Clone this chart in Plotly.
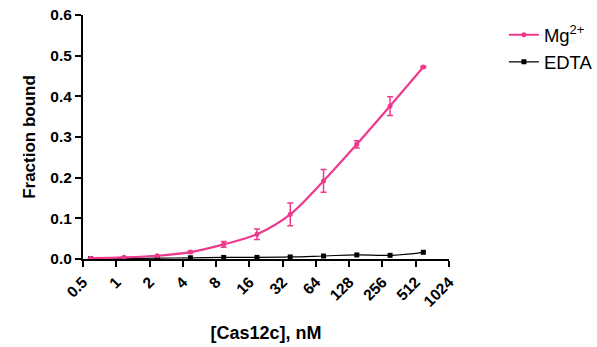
import math
import plotly.graph_objects as go

conc = [600 / 2 ** n for n in range(10, -1, -1)]
mg_mean = [0.002, 0.004, 0.008, 0.017, 0.036, 0.061, 0.110, 0.192, 0.282, 0.376, 0.472]
mg_err = [0.0, 0.0, 0.0, 0.002, 0.007, 0.013, 0.028, 0.028, 0.009, 0.023, 0.002]
edta_mean = [0.001, 0.001, 0.002, 0.003, 0.004, 0.004, 0.005, 0.0074, 0.010, 0.009, 0.0165]
tick_vals = [0.5, 1, 2, 4, 8, 16, 32, 64, 128, 256, 512, 1024]
tick_text = ["0.5", "1", "2", "4", "8", "16", "32", "64", "128", "256", "512", "1024"]
y_ticks = [0.0, 0.1, 0.2, 0.3, 0.4, 0.5, 0.6]

PINK = "#EE3A8C"
FONT = "Liberation Sans"

fig = go.Figure()
fig.add_trace(go.Scatter(
    x=conc, y=edta_mean, mode="lines+markers", name="EDTA",
    line=dict(color="black", width=1.2, shape="spline", smoothing=1.2),
    marker=dict(symbol="square", size=5, color="black"),
))
fig.add_trace(go.Scatter(
    x=conc, y=mg_mean, mode="lines+markers", name="Mg<sup>2+</sup>",
    line=dict(color=PINK, width=2.2, shape="spline", smoothing=0.9),
    marker=dict(symbol="circle", size=5, color=PINK),
    error_y=dict(type="data", array=mg_err, color=PINK, thickness=1.5, width=3),
))

fig.update_layout(
    width=597, height=347,
    margin=dict(l=83, r=148, t=15, b=88, autoexpand=False),
    plot_bgcolor="white", paper_bgcolor="white",
    font=dict(family=FONT, color="black"),
    showlegend=True,
    legend=dict(x=1.15, y=0.995, xanchor="left", yanchor="top",
                font=dict(family=FONT, size=18.5, color="black"),
                traceorder="reversed", itemwidth=30, tracegroupgap=22,
                bgcolor="rgba(0,0,0,0)"),
    xaxis=dict(
        type="log", range=[math.log10(0.5), math.log10(1024)], automargin=False,
        tickvals=tick_vals, ticktext=tick_text, tickangle=-45,
        ticks="outside", ticklen=6, tickwidth=2, tickcolor="black",
        showline=True, linewidth=2, linecolor="black", showgrid=False, zeroline=False,
        tickfont=dict(family=FONT, size=15.5, color="black", weight="bold"),
        title=dict(text="<b>[Cas12c], nM</b>", font=dict(family=FONT, size=18), standoff=18),
    ),
    yaxis=dict(
        range=[0, 0.6], tickvals=y_ticks, tickformat=".1f", automargin=False,
        ticks="outside", ticklen=6, tickwidth=2, tickcolor="black",
        showline=True, linewidth=2, linecolor="black", showgrid=False, zeroline=False,
        tickfont=dict(family=FONT, size=15.5, color="black", weight="bold"),
        title=dict(text="<b>Fraction bound</b>", font=dict(family=FONT, size=17), standoff=10),
    ),
)
fig.write_html("out.html")
